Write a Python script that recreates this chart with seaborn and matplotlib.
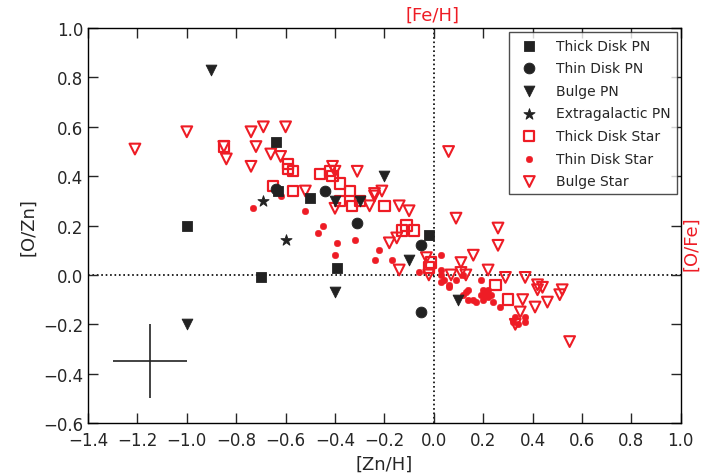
import pandas as pd
import matplotlib
matplotlib.use("Agg")
import matplotlib.pyplot as plt
import seaborn as sns

# PN data
thick_pn_x = [-0.64, -0.63, -0.50, -1.00, -0.70, -0.39, -0.02]
thick_pn_y = [0.54, 0.34, 0.31, 0.20, -0.01, 0.03, 0.16]
thin_pn_x = [-0.64, -0.44, -0.31, -0.05, -0.05]
thin_pn_y = [0.35, 0.34, 0.21, 0.12, -0.15]
bulge_pn_x = [-0.90, -1.00, -0.40, -0.20, -0.40, -0.30, -0.10, 0.10]
bulge_pn_y = [0.83, -0.20, -0.07, 0.40, 0.30, 0.30, 0.06, -0.10]
extra_pn_x = [-0.69, -0.60]
extra_pn_y = [0.30, 0.14]

# star data
thick_star_x = [-0.85, -0.59, -0.59, -0.57, -0.65, -0.57, -0.46, -0.42, -0.41, -0.38,
                -0.34, -0.38, -0.33, -0.30, -0.20, -0.13, -0.11, -0.08, -0.01, -0.02,
                0.25, 0.30]
thick_star_y = [0.52, 0.45, 0.43, 0.42, 0.36, 0.34, 0.41, 0.42, 0.40, 0.37,
                0.34, 0.30, 0.28, 0.30, 0.28, 0.18, 0.20, 0.18, 0.05, 0.03,
                -0.04, -0.10]
thin_star_x = [-0.62, -0.73, -0.52, -0.45, -0.47, -0.39, -0.40, -0.32, -0.22, -0.24,
               -0.17, -0.06, 0.03, 0.03, 0.03, 0.04, 0.03, 0.06, 0.06, 0.09,
               0.12, 0.19, 0.12, 0.13, 0.14, 0.14, 0.16, 0.17, 0.19, 0.20,
               0.22, 0.21, 0.22, 0.23, 0.20, 0.24, 0.27, 0.32, 0.33, 0.34,
               0.37, 0.37]
thin_star_y = [0.32, 0.27, 0.26, 0.20, 0.17, 0.13, 0.08, 0.14, 0.10, 0.06,
               0.06, 0.01, 0.08, 0.02, 0.00, -0.02, -0.03, -0.04, -0.05, -0.02,
               0.00, -0.02, -0.08, -0.07, -0.06, -0.10, -0.10, -0.11, -0.08, -0.06,
               -0.06, -0.08, -0.09, -0.08, -0.10, -0.11, -0.13, -0.19, -0.17, -0.20,
               -0.17, -0.19]
bulge_star_x = [-1.21, -1.00, -0.74, -0.69, -0.60, -0.85, -0.84, -0.72, -0.66, -0.62,
                -0.74, -0.52, -0.41, -0.40, -0.31, -0.40, -0.26, -0.24, -0.21, -0.24,
                -0.14, -0.10, -0.18, -0.15, -0.14, -0.03, -0.02, 0.06, 0.09, 0.26,
                0.26, 0.16, 0.11, 0.07, 0.11, 0.13, 0.22, 0.29, 0.37, 0.42,
                0.44, 0.42, 0.52, 0.51, 0.46, 0.41, 0.36, 0.35, 0.33, 0.55]
bulge_star_y = [0.51, 0.58, 0.58, 0.60, 0.60, 0.52, 0.47, 0.52, 0.49, 0.48,
                0.44, 0.34, 0.44, 0.42, 0.42, 0.27, 0.28, 0.33, 0.34, 0.32,
                0.28, 0.26, 0.13, 0.15, 0.02, 0.07, 0.00, 0.50, 0.23, 0.19,
                0.12, 0.08, 0.05, 0.00, 0.01, 0.00, 0.02, -0.01, -0.01, -0.04,
                -0.05, -0.06, -0.06, -0.08, -0.11, -0.13, -0.10, -0.15, -0.20, -0.27]

sns.set_style("ticks")
plt.rcParams["font.family"] = ["DejaVu Sans"]
plt.rcParams["xtick.direction"] = "in"
plt.rcParams["ytick.direction"] = "in"

fig = plt.figure(figsize=(7.04, 4.77), dpi=100)
ax = fig.add_axes([0.125, 0.111, 0.842, 0.828])

ax.axhline(0, color="k", ls=":", lw=1.2, zorder=0)
ax.axvline(0, color="k", ls=":", lw=1.2, zorder=0)

red = "#ee1c25"
dark = "#222222"

sns.scatterplot(x=thick_pn_x, y=thick_pn_y, marker="s", s=55, color=dark, edgecolor=dark,
                label="Thick Disk PN", ax=ax, zorder=3)
sns.scatterplot(x=thin_pn_x, y=thin_pn_y, marker="o", s=60, color=dark, edgecolor=dark,
                label="Thin Disk PN", ax=ax, zorder=3)
sns.scatterplot(x=bulge_pn_x, y=bulge_pn_y, marker="v", s=60, color=dark, edgecolor=dark,
                label="Bulge PN", ax=ax, zorder=3)
sns.scatterplot(x=extra_pn_x, y=extra_pn_y, marker="*", s=70, color=dark, edgecolor=dark,
                label="Extragalactic PN", ax=ax, zorder=3)
sns.scatterplot(x=thick_star_x, y=thick_star_y, marker="s", s=55, facecolor="none",
                edgecolor=red, linewidth=1.6, label="Thick Disk Star", ax=ax, zorder=2)
sns.scatterplot(x=thin_star_x, y=thin_star_y, marker="o", s=22, color=red, edgecolor=red,
                label="Thin Disk Star", ax=ax, zorder=2)
sns.scatterplot(x=bulge_star_x, y=bulge_star_y, marker="v", s=60, facecolor="none",
                edgecolor=red, linewidth=1.5, label="Bulge Star", ax=ax, zorder=2)

# typical error bar
ax.errorbar([-1.15], [-0.35], xerr=[0.15], yerr=[0.15], fmt="none", ecolor="#222222",
            elinewidth=1.2, capsize=0)

ax.set_xlim(-1.4, 1.0)
ax.set_ylim(-0.6, 1.0)
ax.set_xticks([-1.4, -1.2, -1.0, -0.8, -0.6, -0.4, -0.2, 0.0, 0.2, 0.4, 0.6, 0.8, 1.0])
ax.set_yticks([-0.6, -0.4, -0.2, 0.0, 0.2, 0.4, 0.6, 0.8, 1.0])
ax.set_xticklabels(["\u22121.4", "\u22121.2", "\u22121.0", "\u22120.8", "\u22120.6", "\u22120.4",
                    "\u22120.2", "0.0", "0.2", "0.4", "0.6", "0.8", "1.0"])
ax.set_yticklabels(["\u22120.6", "\u22120.4", "\u22120.2", "0.0", "0.2", "0.4", "0.6", "0.8", "1.0"])
ax.tick_params(axis="both", which="both", direction="in", top=True, right=True,
               labelsize=12, length=7, width=1)
ax.tick_params(axis="x", pad=6)
for sp in ax.spines.values():
    sp.set_linewidth(1.0)
    sp.set_color("k")

ax.set_xlabel("[Zn/H]", fontsize=13)
ax.set_ylabel("[O/Zn]", fontsize=13)
fig.text(0.615, 0.968, "[Fe/H]", color=red, fontsize=13, ha="center", va="center")
fig.text(0.982, 0.49, "[O/Fe]", color=red, fontsize=13, ha="center", va="center", rotation=90)

leg = ax.legend(loc="upper right", fontsize=10, frameon=True, fancybox=False,
                borderpad=0.45, labelspacing=0.62, handletextpad=0.9, scatterpoints=1,
                borderaxespad=0.3)
leg.get_frame().set_edgecolor("#222222")
leg.get_frame().set_linewidth(1.0)

fig.savefig("out.png", dpi=100)
